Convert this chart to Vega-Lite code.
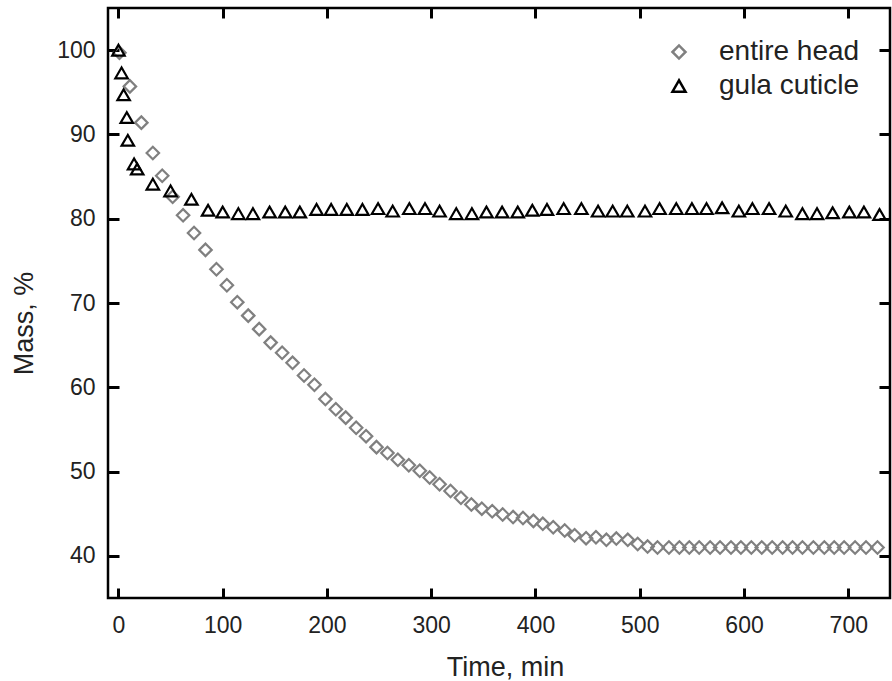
{
  "$schema": "https://vega.github.io/schema/vega-lite/v6.json",
  "width": 782,
  "height": 590,
  "autosize": "none",
  "padding": {"left": 108, "top": 8, "right": 2, "bottom": 83},
  "background": "white",
  "config": {
    "view": {"stroke": "black", "strokeWidth": 2.5, "fill": null},
    "font": "Liberation Sans",
    "axis": {
      "grid": false,
      "domain": false,
      "labelFont": "Liberation Sans",
      "labelFontSize": 23,
      "labelColor": "#222",
      "titleFont": "Liberation Sans",
      "titleFontSize": 27,
      "titleFontWeight": "normal",
      "titleColor": "#222"
    }
  },
  "data": {"values": [
      {"t": 1, "m": 99.7, "s": "entire head"},
      {"t": 11, "m": 95.7, "s": "entire head"},
      {"t": 22, "m": 91.4, "s": "entire head"},
      {"t": 33, "m": 87.8, "s": "entire head"},
      {"t": 42, "m": 85.1, "s": "entire head"},
      {"t": 52, "m": 82.6, "s": "entire head"},
      {"t": 62, "m": 80.4, "s": "entire head"},
      {"t": 72.5, "m": 78.3, "s": "entire head"},
      {"t": 83.5, "m": 76.3, "s": "entire head"},
      {"t": 94, "m": 74.0, "s": "entire head"},
      {"t": 104, "m": 72.1, "s": "entire head"},
      {"t": 114, "m": 70.1, "s": "entire head"},
      {"t": 124.5, "m": 68.5, "s": "entire head"},
      {"t": 135, "m": 66.9, "s": "entire head"},
      {"t": 146, "m": 65.3, "s": "entire head"},
      {"t": 157, "m": 64.1, "s": "entire head"},
      {"t": 167, "m": 62.9, "s": "entire head"},
      {"t": 178, "m": 61.4, "s": "entire head"},
      {"t": 188, "m": 60.3, "s": "entire head"},
      {"t": 198.5, "m": 58.6, "s": "entire head"},
      {"t": 208.5, "m": 57.4, "s": "entire head"},
      {"t": 218, "m": 56.4, "s": "entire head"},
      {"t": 228, "m": 55.2, "s": "entire head"},
      {"t": 237.5, "m": 54.2, "s": "entire head"},
      {"t": 247.5, "m": 52.9, "s": "entire head"},
      {"t": 258, "m": 52.2, "s": "entire head"},
      {"t": 268, "m": 51.4, "s": "entire head"},
      {"t": 278.5, "m": 50.75, "s": "entire head"},
      {"t": 289, "m": 50.1, "s": "entire head"},
      {"t": 298.5, "m": 49.3, "s": "entire head"},
      {"t": 308, "m": 48.5, "s": "entire head"},
      {"t": 318.5, "m": 47.7, "s": "entire head"},
      {"t": 328.5, "m": 46.9, "s": "entire head"},
      {"t": 338.5, "m": 46.1, "s": "entire head"},
      {"t": 348.5, "m": 45.6, "s": "entire head"},
      {"t": 358.5, "m": 45.3, "s": "entire head"},
      {"t": 368.5, "m": 44.9, "s": "entire head"},
      {"t": 378.5, "m": 44.6, "s": "entire head"},
      {"t": 388, "m": 44.5, "s": "entire head"},
      {"t": 398, "m": 44.15, "s": "entire head"},
      {"t": 407, "m": 43.8, "s": "entire head"},
      {"t": 417, "m": 43.4, "s": "entire head"},
      {"t": 428, "m": 43.0, "s": "entire head"},
      {"t": 437.5, "m": 42.45, "s": "entire head"},
      {"t": 448.5, "m": 42.1, "s": "entire head"},
      {"t": 458, "m": 42.2, "s": "entire head"},
      {"t": 468, "m": 41.9, "s": "entire head"},
      {"t": 477.5, "m": 42.05, "s": "entire head"},
      {"t": 488.5, "m": 41.9, "s": "entire head"},
      {"t": 498, "m": 41.4, "s": "entire head"},
      {"t": 507.5, "m": 41.1, "s": "entire head"},
      {"t": 517, "m": 41.0, "s": "entire head"},
      {"t": 528, "m": 41.0, "s": "entire head"},
      {"t": 538, "m": 41.0, "s": "entire head"},
      {"t": 547.5, "m": 41.0, "s": "entire head"},
      {"t": 557, "m": 41.0, "s": "entire head"},
      {"t": 567.5, "m": 41.0, "s": "entire head"},
      {"t": 577, "m": 41.0, "s": "entire head"},
      {"t": 587.5, "m": 41.0, "s": "entire head"},
      {"t": 597, "m": 41.0, "s": "entire head"},
      {"t": 607, "m": 41.0, "s": "entire head"},
      {"t": 617, "m": 41.0, "s": "entire head"},
      {"t": 627, "m": 41.0, "s": "entire head"},
      {"t": 637, "m": 41.0, "s": "entire head"},
      {"t": 646.5, "m": 41.0, "s": "entire head"},
      {"t": 656, "m": 41.0, "s": "entire head"},
      {"t": 666.5, "m": 41.0, "s": "entire head"},
      {"t": 677, "m": 41.0, "s": "entire head"},
      {"t": 686.5, "m": 41.0, "s": "entire head"},
      {"t": 696, "m": 41.0, "s": "entire head"},
      {"t": 706.5, "m": 41.0, "s": "entire head"},
      {"t": 717, "m": 41.0, "s": "entire head"},
      {"t": 728, "m": 41.0, "s": "entire head"},
      {"t": 0, "m": 100, "s": "gula cuticle"},
      {"t": 3, "m": 97.3, "s": "gula cuticle"},
      {"t": 5, "m": 94.7, "s": "gula cuticle"},
      {"t": 8, "m": 92.0, "s": "gula cuticle"},
      {"t": 9, "m": 89.3, "s": "gula cuticle"},
      {"t": 15, "m": 86.5, "s": "gula cuticle"},
      {"t": 18, "m": 85.9, "s": "gula cuticle"},
      {"t": 33, "m": 84.1, "s": "gula cuticle"},
      {"t": 50, "m": 83.3, "s": "gula cuticle"},
      {"t": 70, "m": 82.3, "s": "gula cuticle"},
      {"t": 86, "m": 81.0, "s": "gula cuticle"},
      {"t": 100, "m": 80.8, "s": "gula cuticle"},
      {"t": 115, "m": 80.6, "s": "gula cuticle"},
      {"t": 129, "m": 80.6, "s": "gula cuticle"},
      {"t": 145, "m": 80.8, "s": "gula cuticle"},
      {"t": 160, "m": 80.8, "s": "gula cuticle"},
      {"t": 174, "m": 80.8, "s": "gula cuticle"},
      {"t": 190, "m": 81.1, "s": "gula cuticle"},
      {"t": 204, "m": 81.1, "s": "gula cuticle"},
      {"t": 219, "m": 81.1, "s": "gula cuticle"},
      {"t": 234, "m": 81.1, "s": "gula cuticle"},
      {"t": 249, "m": 81.2, "s": "gula cuticle"},
      {"t": 263, "m": 80.9, "s": "gula cuticle"},
      {"t": 279, "m": 81.2, "s": "gula cuticle"},
      {"t": 294, "m": 81.2, "s": "gula cuticle"},
      {"t": 308, "m": 80.9, "s": "gula cuticle"},
      {"t": 324, "m": 80.6, "s": "gula cuticle"},
      {"t": 339, "m": 80.6, "s": "gula cuticle"},
      {"t": 353, "m": 80.8, "s": "gula cuticle"},
      {"t": 368, "m": 80.8, "s": "gula cuticle"},
      {"t": 383, "m": 80.8, "s": "gula cuticle"},
      {"t": 397, "m": 81.0, "s": "gula cuticle"},
      {"t": 411, "m": 81.1, "s": "gula cuticle"},
      {"t": 427, "m": 81.2, "s": "gula cuticle"},
      {"t": 444, "m": 81.2, "s": "gula cuticle"},
      {"t": 460, "m": 80.9, "s": "gula cuticle"},
      {"t": 474, "m": 80.9, "s": "gula cuticle"},
      {"t": 488, "m": 80.9, "s": "gula cuticle"},
      {"t": 505, "m": 80.9, "s": "gula cuticle"},
      {"t": 519, "m": 81.2, "s": "gula cuticle"},
      {"t": 535, "m": 81.2, "s": "gula cuticle"},
      {"t": 550, "m": 81.2, "s": "gula cuticle"},
      {"t": 564, "m": 81.2, "s": "gula cuticle"},
      {"t": 579, "m": 81.3, "s": "gula cuticle"},
      {"t": 595, "m": 80.9, "s": "gula cuticle"},
      {"t": 608, "m": 81.2, "s": "gula cuticle"},
      {"t": 624, "m": 81.2, "s": "gula cuticle"},
      {"t": 640, "m": 80.9, "s": "gula cuticle"},
      {"t": 656, "m": 80.6, "s": "gula cuticle"},
      {"t": 670, "m": 80.6, "s": "gula cuticle"},
      {"t": 685, "m": 80.7, "s": "gula cuticle"},
      {"t": 701, "m": 80.8, "s": "gula cuticle"},
      {"t": 715, "m": 80.8, "s": "gula cuticle"},
      {"t": 730, "m": 80.5, "s": "gula cuticle"}
  ]},
  "layer": [
    {
      "mark": {"type": "point", "filled": false, "strokeWidth": 2.2, "size": 155, "opacity": 1},
      "encoding": {
        "x": {
          "field": "t", "type": "quantitative",
          "scale": {"domain": [-10, 740], "nice": false, "zero": false},
          "axis": {
            "orient": "bottom",
            "values": [0, 100, 200, 300, 400, 500, 600, 700],
            "ticks": true,
            "tickSize": -10,
            "tickColor": "black",
            "tickWidth": 3,
            "labelPadding": 44,
            "labelBaseline": "alphabetic",
            "title": "Time, min",
            "titleX": 397,
            "titleY": 77,
            "titleBaseline": "alphabetic",
            "titleAlign": "center"
          }
        },
        "y": {
          "field": "m", "type": "quantitative",
          "scale": {"domain": [35, 105], "nice": false, "zero": false},
          "axis": {
            "orient": "left",
            "values": [40, 50, 60, 70, 80, 90, 100],
            "tickSize": -11,
            "tickColor": "black",
            "tickWidth": 3,
            "labelPadding": 24,
            "title": "Mass, %",
            "titleX": -76,
            "titleY": 315,
            "titleAngle": -90,
            "titleBaseline": "alphabetic",
            "titleAlign": "center"
          }
        },
        "shape": {
          "field": "s", "type": "nominal",
          "scale": {"domain": ["entire head", "gula cuticle"], "range": ["diamond", "triangle-up"]},
          "legend": {
            "title": null,
            "orient": "top-right",
            "offset": 30,
            "symbolSize": 170,
            "symbolStrokeWidth": 2.5,
            "symbolOpacity": 1,
            "labelFont": "Liberation Sans",
            "labelFontSize": 28,
            "labelColor": "#222",
            "labelOffset": 26,
            "rowPadding": 6,
            "padding": 0
          }
        },
        "color": {
          "field": "s", "type": "nominal",
          "scale": {"domain": ["entire head", "gula cuticle"], "range": ["#808080", "#000000"]},
          "legend": {"title": null}
        }
      }
    },
    {
      "mark": {"type": "point", "opacity": 0},
      "encoding": {
        "x": {"field": "t", "type": "quantitative",
          "axis": {"orient": "top", "values": [0, 100, 200, 300, 400, 500, 600, 700], "tickSize": 10, "offset": -10, "tickColor": "black", "tickWidth": 3, "labels": false, "title": null}},
        "y": {"field": "m", "type": "quantitative",
          "axis": {"orient": "right", "values": [40, 50, 60, 70, 80, 90, 100], "tickSize": 11, "offset": -11, "tickColor": "black", "tickWidth": 3, "labels": false, "title": null}}
      }
    }
  ],
  "resolve": {"axis": {"x": "independent", "y": "independent"}}
}
